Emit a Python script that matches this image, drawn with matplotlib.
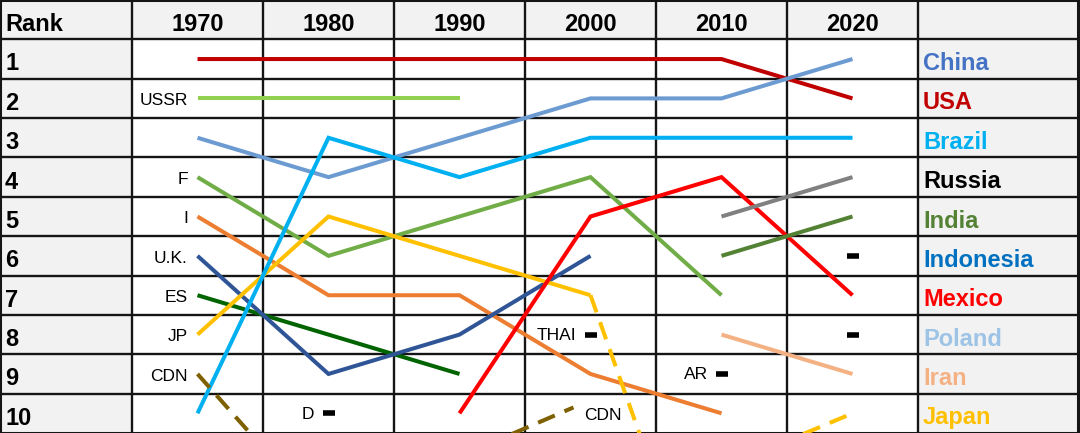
import matplotlib
matplotlib.use("Agg")
import matplotlib.pyplot as plt
from matplotlib import font_manager

# ---------------- data ----------------
years = [1970, 1980, 1990, 2000, 2010, 2020]
year_labels = ["1970", "1980", "1990", "2000", "2010", "2020"]
ranks = [1, 2, 3, 4, 5, 6, 7, 8, 9, 10]
rank_labels = ["1", "2", "3", "4", "5", "6", "7", "8", "9", "10"]

legend_names = ["China", "USA", "Brazil", "Russia", "India",
                "Indonesia", "Mexico", "Poland", "Iran", "Japan"]
legend_colors = ["#4472C4", "#C00000", "#00B0F0", "#000000", "#548235",
                 "#0070C0", "#FF0000", "#9DC3E6", "#F4B183", "#FFC000"]

usa_years = [1970, 1980, 1990, 2000, 2010, 2020]
usa_ranks = [1, 1, 1, 1, 1, 2]
china_years = [1970, 1980, 1990, 2000, 2010, 2020]
china_ranks = [3, 4, 3, 2, 2, 1]
ussr_years = [1970, 1980, 1990]
ussr_ranks = [2, 2, 2]
brazil_years = [1970, 1980, 1990, 2000, 2010, 2020]
brazil_ranks = [10, 3, 4, 3, 3, 3]
france_years = [1970, 1980, 1990, 2000, 2010]
france_ranks = [4, 6, 5, 4, 7]
italy_years = [1970, 1980, 1990, 2000, 2010]
italy_ranks = [5, 7, 7, 9, 10]
uk_years = [1970, 1980, 1990, 2000]
uk_ranks = [6, 9, 8, 6]
spain_years = [1970, 1980, 1990]
spain_ranks = [7, 8, 9]
japan_years = [1970, 1980, 1990, 2000]
japan_ranks = [8, 5, 6, 7]
japan_out_years = [2000, 2010]
japan_out_ranks = [7, 16.4]
japan_back_years = [2010, 2020]
japan_back_ranks = [11.4, 10]
cdn_out_years = [1970, 1980]
cdn_out_ranks = [9, 12.75]
cdn_back_years = [1990, 1998.7]
cdn_back_ranks = [11.1, 9.85]
mexico_years = [1990, 2000, 2010, 2020]
mexico_ranks = [10, 5, 4, 7]
russia_years = [2010, 2020]
russia_ranks = [5, 4]
india_years = [2010, 2020]
india_ranks = [6, 5]
iran_years = [2010, 2020]
iran_ranks = [8, 9]

start_labels = ["USSR", "F", "I", "U.K.", "ES", "JP", "CDN"]
start_label_ranks = [2, 4, 5, 6, 7, 8, 9]

mark_labels = ["D", "THAI", "AR", "", ""]
mark_years = [1980, 2000, 2010, 2020, 2020]
mark_ranks = [10, 8, 9, 6, 8]

# ---------------- style ----------------
GRAY = "#F2F2F2"
GRID = "#151515"
LW = 2.9

names = {f.name for f in font_manager.fontManager.ttflist}
if "Liberation Sans Narrow" in names:
    SMALL_FAMILY, SMALL_SIZE = "Liberation Sans Narrow", 13.4
else:
    SMALL_FAMILY, SMALL_SIZE = "Liberation Sans", 12.5
BIG_FAMILY = "Liberation Sans"
BIG_SIZE = 17

PX_PER_YEAR = 13.1
X0 = 1965 - 132 / PX_PER_YEAR
X1 = 2025 + 162 / PX_PER_YEAR
XR = 2025 + 160 / PX_PER_YEAR

fig = plt.figure(figsize=(10.8, 4.33), dpi=100)
ax = fig.add_axes([0, 0, 1, 1])
ax.set_xlim(X0, X1)
ax.set_ylim(10.5, -0.5)
ax.axis("off")

# backgrounds
ax.axvspan(X0, 1965, color=GRAY, zorder=0, lw=0)
ax.axvspan(2025, XR, color=GRAY, zorder=0, lw=0)
ax.axhspan(-0.5, 0.5, color=GRAY, zorder=0, lw=0)

# grid
for yb in [r + 0.5 for r in [0] + ranks[:-1]]:
    ax.plot([X0, XR], [yb, yb], color=GRID, lw=1.7, zorder=1, solid_capstyle="butt")
for xb in [y - 5 for y in years] + [2025]:
    ax.plot([xb, xb], [-0.5, 10.5], color=GRID, lw=1.7, zorder=1, solid_capstyle="butt")
ax.plot([X0, XR, XR, X0, X0], [-0.5, -0.5, 10.5, 10.5, -0.5], color=GRID, lw=2.2, zorder=1)

# header
ax.text(X0 + 5 / PX_PER_YEAR, 0.3, "Rank", ha="left", va="baseline",
        fontsize=BIG_SIZE, fontweight="bold", family=BIG_FAMILY, zorder=5)
for yv, yl in zip(years, year_labels):
    ax.text(yv, 0.3, yl, ha="center", va="baseline", fontsize=BIG_SIZE,
            fontweight="bold", family=BIG_FAMILY, zorder=5)
for r, rl in zip(ranks, rank_labels):
    ax.text(X0 + 5 / PX_PER_YEAR, r + 0.29, rl, ha="left", va="baseline",
            fontsize=BIG_SIZE, fontweight="bold", family=BIG_FAMILY, zorder=5)
for r, nm, c in zip(ranks, legend_names, legend_colors):
    ax.text(2025 + 5 / PX_PER_YEAR, r + 0.28, nm, ha="left", va="baseline",
            fontsize=BIG_SIZE, fontweight="bold", family=BIG_FAMILY, color=c, zorder=5)

# series
solid = [
    (usa_years, usa_ranks, "#C00000"),
    (ussr_years, ussr_ranks, "#92D050"),
    (france_years, france_ranks, "#70AD47"),
    (italy_years, italy_ranks, "#ED7D31"),
    (spain_years, spain_ranks, "#006400"),
    (uk_years, uk_ranks, "#2F5597"),
    (japan_years, japan_ranks, "#FFC000"),
    (china_years, china_ranks, "#6C9BD2"),
    (brazil_years, brazil_ranks, "#00B0F0"),
    (mexico_years, mexico_ranks, "#FF0000"),
    (russia_years, russia_ranks, "#808080"),
    (india_years, india_ranks, "#548235"),
    (iran_years, iran_ranks, "#F4B183"),
]
for xs, ys, c in solid:
    ax.plot(xs, ys, color=c, lw=LW, solid_capstyle="butt", solid_joinstyle="miter", zorder=3)

dashed = [
    (japan_out_years, japan_out_ranks, "#FFC000"),
    (japan_back_years, japan_back_ranks, "#FFC000"),
    (cdn_out_years, cdn_out_ranks, "#7F6000"),
    (cdn_back_years, cdn_back_ranks, "#7F6000"),
]
for xs, ys, c in dashed:
    ax.plot(xs, ys, color=c, lw=LW, dashes=(4.5, 2.6), dash_capstyle="butt", zorder=3)

# labels at series starts
for lbl, r in zip(start_labels, start_label_ranks):
    ax.annotate(lbl, (years[0], r + 0.17), xytext=(-7, 0), textcoords="offset points",
                ha="right", va="baseline", fontsize=SMALL_SIZE, family=SMALL_FAMILY, zorder=5)

# single-point marks
ax.plot(mark_years, mark_ranks, linestyle="none", marker="_", ms=8, mew=4,
        color="black", zorder=4)
for lbl, xv, r in zip(mark_labels, mark_years, mark_ranks):
    if lbl:
        ax.annotate(lbl, (xv, r + 0.14), xytext=(-10, 0), textcoords="offset points",
                    ha="right", va="baseline", fontsize=SMALL_SIZE, family=SMALL_FAMILY, zorder=5)

ax.annotate("CDN", (cdn_back_years[-1], 10 + 0.16), xytext=(8, 0), textcoords="offset points",
            ha="left", va="baseline", fontsize=SMALL_SIZE, family=SMALL_FAMILY, zorder=5)

fig.savefig("out.png", dpi=100)
